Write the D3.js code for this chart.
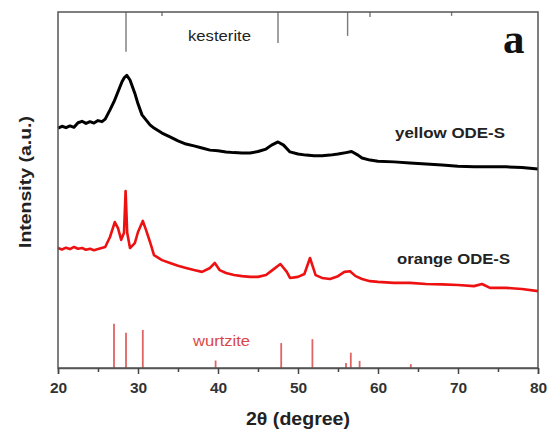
<!DOCTYPE html>
<html>
<head>
<meta charset="utf-8">
<script src="https://cdn.jsdelivr.net/npm/d3@7"></script>
<style>
    html, body { margin: 0; padding: 0; background: #fff; }
    svg { display: block; }
</style>
</head>
<body>
<div id="chart"></div>
<script>
// 2theta ticks
var xTicks = [20, 30, 40, 50, 60, 70, 80];
var xMinorTicks = [25, 35, 45, 55, 65, 75];

// yellow ODE-S pattern [2theta, intensity a.u.]
var yellowData = [
    [20, 67.4], [20.5, 67.9], [21, 67.5], [21.5, 68.0], [22, 67.6], [22.5, 68.9], [23, 69.3],
    [23.5, 68.7], [24, 69.2], [24.5, 68.8], [25, 69.5], [25.5, 69.2], [25.9, 69.9], [26.5, 72.5],
    [27, 74.8], [27.5, 77.6], [28, 80.4], [28.3, 81.6], [28.6, 82.2], [29, 80.9], [29.6, 77.2],
    [30, 74.2], [30.5, 71.1], [31, 69.7], [31.5, 68.3], [32, 67.4], [33, 66.0], [34, 64.9],
    [35, 63.8], [36, 62.9], [37, 62.4], [38, 61.8], [39, 61.2], [40, 61.0], [41, 60.7],
    [42, 60.5], [43, 60.4], [44, 60.4], [45, 60.8], [46, 61.5], [46.7, 62.6], [47.5, 63.5],
    [48.2, 62.6], [49, 60.7], [50, 60.1], [51, 59.8], [52, 59.6], [53, 59.6], [54, 59.8],
    [55, 60.1], [56, 60.5], [56.7, 60.8], [57.5, 59.8], [58, 59.0], [59, 58.4], [60, 58.1],
    [62, 57.9], [64, 57.6], [66, 57.3], [68, 57.0], [70, 56.7], [72, 56.5], [74, 56.5],
    [76, 56.5], [78, 56.3], [80, 55.9]
];

// orange ODE-S pattern
var orangeData = [
    [20, 33.7], [20.5, 33.3], [21, 33.8], [21.5, 33.4], [22, 34.0], [22.5, 33.5], [23, 33.7],
    [23.5, 33.2], [24, 33.5], [24.5, 33.1], [25, 33.4], [25.9, 34.0], [26.5, 36.8], [27.1, 41.0],
    [27.5, 39.3], [27.9, 36.0], [28.25, 38.0], [28.45, 49.7], [28.65, 38.0], [29, 33.7],
    [29.6, 35.1], [30, 38.2], [30.6, 41.3], [31, 38.8], [31.5, 35.4], [32, 31.7], [33, 30.3],
    [34, 29.5], [35, 28.7], [36, 28.1], [37, 27.5], [38, 27.0], [39, 28.1], [39.6, 29.5],
    [40.2, 27.5], [41, 26.7], [42, 26.1], [43, 25.8], [44, 25.6], [45, 25.6], [46, 26.1],
    [46.8, 27.5], [47.8, 29.2], [48.6, 27.0], [49, 25.3], [50, 25.6], [50.8, 26.4], [51.5, 30.9],
    [52.2, 26.1], [53, 25.3], [54, 25.0], [55, 25.8], [55.8, 27.0], [56.5, 27.2], [57.2, 25.8],
    [58, 25.0], [59, 24.4], [60, 24.2], [62, 23.9], [64, 23.9], [66, 23.6], [68, 23.5],
    [70, 23.3], [72, 23.0], [73, 23.6], [74, 22.5], [76, 22.5], [78, 22.2], [80, 21.6]
];

// reference patterns [2theta, relative height]
var kesteritePeaks = [[28.5, 11.2], [33.0, 1.1], [47.5, 8.7], [56.2, 6.7], [59.0, 1.4], [69.2, 1.1]];
var wurtzitePeaks = [[27.0, 12.4], [28.5, 9.9], [30.6, 10.7], [39.7, 2.1], [47.9, 7.0],
    [51.8, 8.1], [56.0, 1.4], [56.6, 4.3], [57.7, 2.0], [64.1, 1.1]];

(function(d3){
    var width = 548,
        height = 429,
        margin = {top: 12, right: 10, bottom: 61, left: 58},
        innerW = width - margin.left - margin.right,
        innerH = height - margin.top - margin.bottom,
        font = '"Liberation Sans", Arial, sans-serif';

    var svg = d3.select('#chart').append('svg')
        .attr('width', width)
        .attr('height', height);

    var g = svg.append('g')
        .attr('transform', 'translate(' + margin.left + ',' + margin.top + ')');

    var x = d3.scaleLinear().domain([20, 80]).range([0, innerW]);
    var y = d3.scaleLinear().domain([0, 100]).range([innerH, 0]);

    var line = d3.line()
        .x(function(d){ return x(d[0]); })
        .y(function(d){ return y(d[1]); });

    // kesterite sticks hang from the top
    g.selectAll('.kest').data(kesteritePeaks).enter().append('line')
        .attr('class', 'kest')
        .attr('x1', function(d){ return x(d[0]); })
        .attr('x2', function(d){ return x(d[0]); })
        .attr('y1', y(100))
        .attr('y2', function(d){ return y(100 - d[1]); })
        .attr('stroke', '#7a7a7a')
        .attr('stroke-width', 1.4);

    // wurtzite sticks rise from the bottom
    g.selectAll('.wurtz').data(wurtzitePeaks).enter().append('line')
        .attr('class', 'wurtz')
        .attr('x1', function(d){ return x(d[0]); })
        .attr('x2', function(d){ return x(d[0]); })
        .attr('y1', y(0))
        .attr('y2', function(d){ return y(d[1]); })
        .attr('stroke', '#e06464')
        .attr('stroke-width', 1.8);

    g.append('path').datum(orangeData)
        .attr('d', line)
        .attr('fill', 'none')
        .attr('stroke', '#ee1111')
        .attr('stroke-width', 2.6)
        .attr('stroke-linejoin', 'round');

    g.append('path').datum(yellowData)
        .attr('d', line)
        .attr('fill', 'none')
        .attr('stroke', '#000')
        .attr('stroke-width', 3)
        .attr('stroke-linejoin', 'round');

    // frame
    g.append('rect')
        .attr('width', innerW)
        .attr('height', innerH)
        .attr('fill', 'none')
        .attr('stroke', '#555')
        .attr('stroke-width', 1.5);

    var xAxis = g.append('g')
        .attr('transform', 'translate(0,' + innerH + ')')
        .call(d3.axisBottom(x).tickValues(xTicks).tickSize(6).tickFormat(d3.format('d')));
    xAxis.select('.domain').attr('stroke', '#555').attr('stroke-width', 1.5);
    xAxis.selectAll('.tick line').attr('stroke', '#444').attr('stroke-width', 1.5);
    xAxis.selectAll('.tick text')
        .attr('y', 14)
        .attr('font-family', font)
        .attr('font-weight', 'bold')
        .attr('font-size', 15.5)
        .attr('fill', '#333');

    g.append('g')
        .attr('transform', 'translate(0,' + innerH + ')')
        .call(d3.axisBottom(x).tickValues(xMinorTicks).tickSize(4).tickFormat(''))
        .call(function(s){
            s.select('.domain').remove();
            s.selectAll('.tick line').attr('stroke', '#444').attr('stroke-width', 1.5);
        });

    // labels, stretched to the widths seen in the figure
    var label = function(txt, px, py, size, len, opts){
        opts = opts || {};
        var t = svg.append('text')
            .attr('x', px)
            .attr('y', py)
            .attr('text-anchor', opts.anchor || 'start')
            .attr('font-family', opts.family || font)
            .attr('font-weight', opts.weight || 'normal')
            .attr('font-size', size)
            .attr('fill', opts.fill || '#222')
            .text(txt);
        if (len) t.attr('textLength', len).attr('lengthAdjust', 'spacingAndGlyphs');
        if (opts.transform) t.attr('transform', opts.transform);
        return t;
    };

    label('2θ (degree)', 246, 425, 18, 104, {weight: 'bold'});
    label('Intensity (a.u.)', -248, 31, 17, 132, {weight: 'bold', transform: 'rotate(-90)'});
    label('kesterite', 188, 41, 14.5, 63);
    label('wurtzite', 193, 346, 14.5, 57, {fill: '#d94848'});
    label('yellow ODE-S', 395, 138, 14, 110, {weight: 'bold'});
    label('orange ODE-S', 397, 264, 14, 113, {weight: 'bold'});
    label('a', 503, 53, 43, null, {weight: 'bold', family: '"Liberation Serif", "Times New Roman", serif', fill: '#111'});
}(d3));
</script>
</body>
</html>
